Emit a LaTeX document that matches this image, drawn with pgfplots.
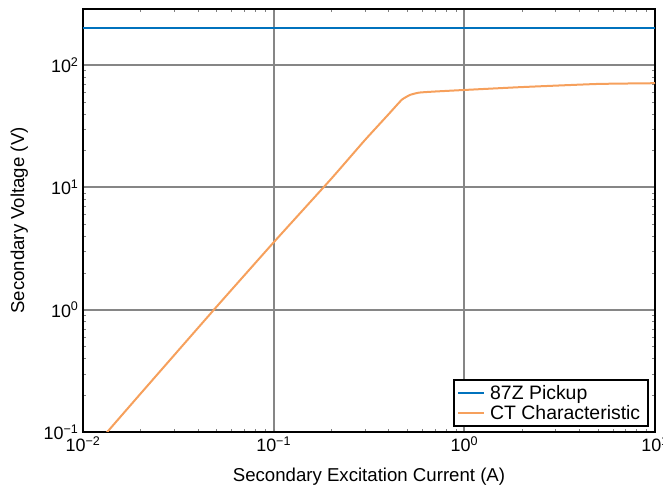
\documentclass[border=0pt]{standalone}
\usepackage{pgfplots}
\pgfplotsset{compat=1.18}
\usepackage{fontspec}
\setmainfont{Liberation Sans}
\definecolor{cblue}{RGB}{0,114,189}
\definecolor{corange}{RGB}{246,160,92}
\begin{document}
\begin{tikzpicture}
\begin{axis}[
  scale only axis,
  width=572bp, height=423bp,
  xmode=log, ymode=log,
  xmin=0.01, xmax=10, ymin=0.1, ymax=287,
  xtick={0.01,0.1,1,10},
  xticklabels={10\textsuperscript{−2},10\textsuperscript{−1},10\textsuperscript{0},10\textsuperscript{1}},
  ytick={0.1,1,10,100},
  yticklabels={10\textsuperscript{−1},10\textsuperscript{0},10\textsuperscript{1},10\textsuperscript{2}},
  minor xtick={}, minor ytick={},
  major tick length=0pt,
  tick label style={font=\fontsize{18}{20}\selectfont},
  label style={font=\fontsize{18.7}{20}\selectfont},
  xticklabel style={yshift=-1bp},
  yticklabel style={xshift=-1bp},
  xlabel={Secondary Excitation Current (A)},
  ylabel={Secondary Voltage (V)},
  xlabel style={yshift=-9bp},
  ylabel style={yshift=9bp},
  grid=major,
  major grid style={draw=gray!95, line width=2bp},
  axis line style={black, line width=2bp},
  legend style={font=\fontsize{19.5}{21}\selectfont, draw=black, line width=1.5bp, at={(0.9895,0.012)}, anchor=south east, inner sep=3bp, row sep=1bp,
    nodes={inner xsep=5bp}},
  legend cell align=left,
  legend image code/.code={\draw[#1, line width=2bp] (0bp,0bp) -- (26bp,0bp);},
  clip=true,
]
\addplot[cblue, line width=2bp] coordinates {(0.01,200) (10,200)};
\addlegendentry{87Z Pickup}
\addplot[corange, line width=2bp, smooth, tension=0.25] coordinates {
 (0.012,0.082) (0.02,0.205) (0.05,1.05) (0.1,3.55) (0.2,11.7) (0.3,24.2) (0.4,39.5) (0.47,52) (0.52,57) (0.58,59.5) (0.7,60.7) (1,62.5) (2,66) (5,70) (10,71)
};
\addlegendentry{CT Characteristic}
\end{axis}
\pgfresetboundingbox
\path ([xshift=-83bp,yshift=-57bp]current axis.south west) rectangle ([xshift=8bp,yshift=9bp]current axis.north east);
\end{tikzpicture}
\end{document}
